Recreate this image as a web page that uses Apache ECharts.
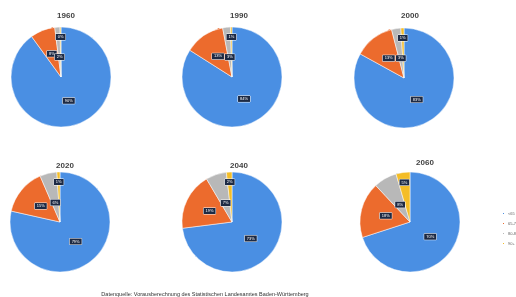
<!DOCTYPE html>
<html>
<head>
<meta charset="utf-8">
<script src="https://cdn.jsdelivr.net/npm/echarts@6/dist/echarts.min.js"></script>
<style>
html, body { margin: 0; padding: 0; background: #fff; }
#container { width: 516px; height: 297px; }
</style>
</head>
<body>
<div id="container"></div>
<script>
var years = ['1960', '1990', '2000', '2020', '2040', '2060'];
var ageGroups = ['<65', '65-79', '80-89', '90+'];
var colors = ['#4a8fe3', '#ec6b2d', '#b8b8b8', '#f4bd27'];

var share1960 = [90, 8, 1.7, 0.3];
var share1990 = [84, 13, 2.5, 0.5];
var share2000 = [83, 13, 3, 1];
var share2020 = [78.5, 15, 5.5, 1];
var share2040 = [73, 18.5, 6.7, 1.8];
var share2060 = [70, 18, 7.5, 4.5];
var allShares = [share1960, share1990, share2000, share2020, share2040, share2060];

var source = 'Datenquelle: Vorausberechnung des Statistischen Landesamtes Baden-Württemberg';

// Kreismittelpunkte und Titel-Positionen
var centers = [[61, 77], [232, 77], [404, 78], [60, 222], [232, 222], [410, 222]];
var pieRadius = 50;
var titleX = [61, 234, 405, 60, 234, 420];
var titleY = [7, 7, 7, 157, 157, 154];
// wie weit vom Mittelpunkt die Beschriftung je Altersgruppe sitzt (Anteil am Radius)
var labelDist = [0.5, 0.5, 0.4, 0.8];

function labelPos(i, j) {
    var vals = allShares[i];
    var total = 0, before = 0;
    for (var k = 0; k < vals.length; k++) {
        total += vals[k];
        if (k < j) before += vals[k];
    }
    var mid = (before + vals[j] / 2) / total * 2 * Math.PI;
    var d = pieRadius * labelDist[j];
    return [centers[i][0] + d * Math.sin(mid), centers[i][1] - d * Math.cos(mid)];
}

function init() {
    var myChart = echarts.init(document.getElementById('container'));
    var titles = [];
    var series = [];
    for (var i = 0; i < years.length; i++) {
        titles.push({
            text: years[i],
            left: titleX[i],
            top: titleY[i],
            textAlign: 'center',
            textStyle: { fontSize: 8, fontWeight: 'bold', color: '#444', fontFamily: 'Liberation Sans' }
        });
        var data = [];
        for (var j = 0; j < ageGroups.length; j++) {
            data.push({ name: ageGroups[j], value: allShares[i][j] });
        }
        (function (si) {
            series.push({
                type: 'pie',
                center: centers[si],
                radius: pieRadius,
                startAngle: 90,
                clockwise: true,
                minAngle: 0,
                minShowLabelAngle: 0,
                avoidLabelOverlap: false,
                animation: false,
                itemStyle: { borderColor: '#fff', borderWidth: 0.5 },
                label: {
                    show: true,
                    position: 'inside',
                    formatter: function (p) { return Math.round(p.value) + '%'; },
                    fontSize: 4,
                    color: '#fff',
                    backgroundColor: '#1d2a44',
                    borderColor: '#fff',
                    borderWidth: 0.5,
                    padding: [1, 2]
                },
                labelLayout: function (params) {
                    var p = labelPos(si, params.dataIndex);
                    return { x: p[0], y: p[1], hideOverlap: false };
                },
                emphasis: { disabled: true },
                data: data
            });
        })(i);
    }
    titles.push({
        text: source,
        left: 200,
        top: 286,
        textAlign: 'center',
        textStyle: { fontSize: 5.5, fontWeight: 'normal', color: '#333', fontFamily: 'Liberation Sans' }
    });
    var option = {
        backgroundColor: '#fff',
        color: colors,
        title: titles,
        legend: {
            orient: 'vertical',
            left: 496,
            top: 206,
            itemWidth: 3,
            itemHeight: 3,
            itemGap: 5,
            icon: 'rect',
            textStyle: { fontSize: 4, color: '#666', padding: [0, 0, 0, -2] },
            data: ageGroups
        },
        series: series
    };
    myChart.setOption(option, true);
}

init();
</script>
</body>
</html>
